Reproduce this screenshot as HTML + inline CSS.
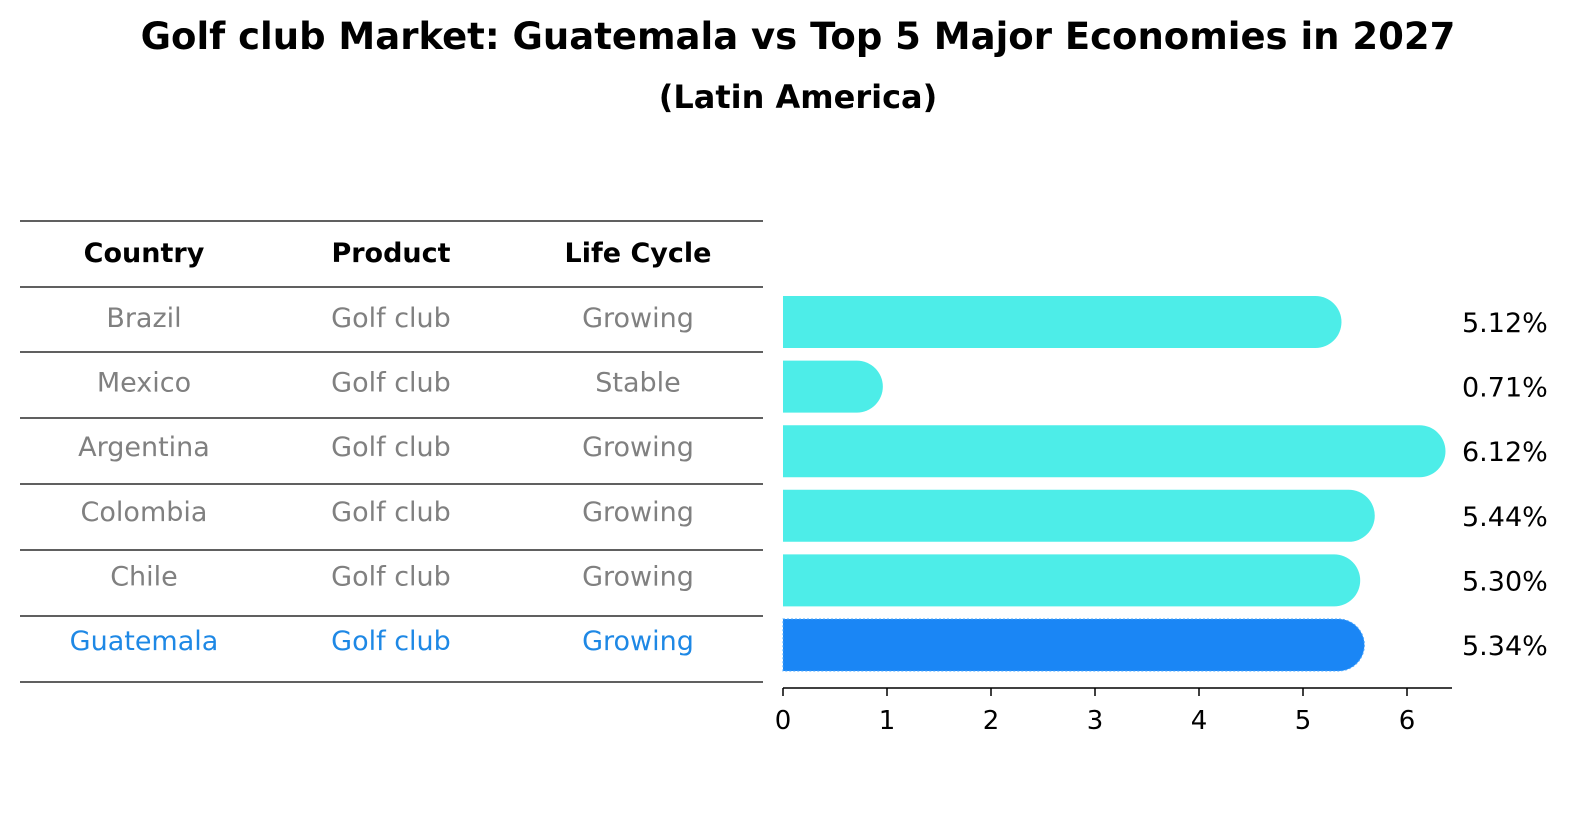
<!DOCTYPE html>
<html><head><meta charset="utf-8"><style>
html,body{margin:0;padding:0;background:#fff;width:1586px;height:823px;overflow:hidden;font-family:"Liberation Sans","DejaVu Sans",sans-serif}
svg{display:block}
</style></head><body>
<svg width="1586" height="823" viewBox="0 0 1586 823" font-family="DejaVu Sans, Liberation Sans, sans-serif">
<text x="798" y="49" text-anchor="middle" font-size="37" font-weight="bold">Golf club Market: Guatemala vs Top 5 Major Economies in 2027</text>
<text x="798" y="108" text-anchor="middle" font-size="32" font-weight="bold">(Latin America)</text>
<g id="table"></g>
<g id="bars"></g>
<g id="axis"></g>
</svg>
<script>
const countries=["Brazil","Mexico","Argentina","Colombia","Chile","Guatemala"];
const products=["Golf club","Golf club","Golf club","Golf club","Golf club","Golf club"];
const lifecycle=["Growing","Stable","Growing","Growing","Growing","Growing"];
const values=[5.12,0.71,6.12,5.44,5.30,5.34];
const ticks=[0,1,2,3,4,5,6];
const NS="http://www.w3.org/2000/svg";
function mk(t,a,p){const e=document.createElementNS(NS,t);for(const k in a)e.setAttribute(k,a[k]);p.appendChild(e);return e;}
const tbl=document.getElementById('table'),bars=document.getElementById('bars'),ax=document.getElementById('axis');
const x=v=>783+v*104;
const rowY=i=>322+i*64.6;
const lineYs=[221,287,352,418,484,550,616,682];
lineYs.forEach(y=>{const l=mk('line',{x1:20,x2:763,y1:y,y2:y,stroke:'#000','stroke-width':1.2},tbl);

});
const cx=[144,391,638];
["Country","Product","Life Cycle"].forEach((h,j)=>{const t=mk('text',{x:cx[j],y:262,'text-anchor':'middle','font-size':27,'font-weight':'bold'},tbl);t.textContent=h;

});
countries.forEach((c,i)=>{
  const col=i==5?'#1E88E5':'#808080';
  [c,products[i],lifecycle[i]].forEach((s,j)=>{const t=mk('text',{x:cx[j],y:rowY(i)+5,'text-anchor':'middle','font-size':27,fill:col},tbl);t.textContent=s;
  
  });
  const h=52,r=26,y0=rowY(i)-h/2,xe=x(values[i]);
  const p=mk('path',{d:`M${x(0)},${y0} H${xe} A${r},${r} 0 0 1 ${xe},${y0+h} H${x(0)} Z`,fill:i==5?'#1A86F5':'#4DEDE8'},bars);
  if(i==5){p.setAttribute('stroke','#4aa8ff');p.setAttribute('stroke-dasharray','2 2');}
  
  
  const t=mk('text',{x:1462,y:rowY(i)+10,'font-size':27},bars);t.textContent=values[i].toFixed(2)+'%';
  
  
});
const al=mk('line',{x1:783,x2:1452,y1:688,y2:688,stroke:'#000','stroke-width':1.5},ax);


ticks.forEach(v=>{const l=mk('line',{x1:x(v),x2:x(v),y1:688,y2:696,stroke:'#000','stroke-width':1.5},ax);


const t=mk('text',{x:x(v),y:729,'text-anchor':'middle','font-size':26},ax);t.textContent=v;

});
</script>
</body></html>
